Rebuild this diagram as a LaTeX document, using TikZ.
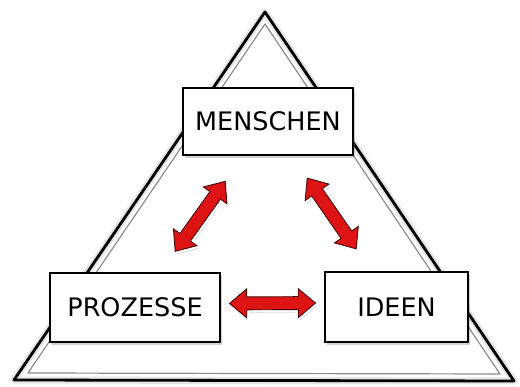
\documentclass[tikz,border=0pt]{standalone}
\usepackage{fontspec}
\setmainfont{DejaVu Sans}
\usetikzlibrary{shapes.arrows, shadows}
\definecolor{pfeilrot}{RGB}{222,20,20}
\definecolor{pfeilrand}{RGB}{70,10,10}
\definecolor{schatten}{RGB}{120,120,120}

\begin{document}
\begin{tikzpicture}[x=1pt, y=-1pt,
        kasten/.style={rectangle, draw=black, line width=1.6pt, fill=white, align=center, inner sep=0pt,
            font=\fontsize{25.5}{30}\selectfont,
            drop shadow={shadow xshift=2pt, shadow yshift=-3pt, opacity=0.35, fill=schatten}},
        pfeil/.style={double arrow, draw=pfeilrand, line width=0.9pt, fill=pfeilrot,
            inner xsep=0pt, inner ysep=6pt, text height=0pt, text depth=0pt,
            minimum height=86pt, double arrow head extend=8pt, double arrow tip angle=80, sloped,
            drop shadow={shadow xshift=1.5pt, shadow yshift=-3pt, opacity=0.35, fill=schatten},
            preaction={draw=white, line width=5pt}}
    ]
    \useasboundingbox (0,0) rectangle (520,387);

    % Dreieck
    \draw[line width=7pt, black!10, line join=round] (265,12) -- (14,380) -- (514,381) -- cycle;
    \draw[line width=2.8pt, black, line join=round] (265,12) -- (14,380) -- (514,381) -- cycle;
    \draw[line width=1.2pt, black!45, line join=round] (265,24) -- (28,373) -- (500,374) -- cycle;

    % Kaesten
    \node[kasten, minimum width=170pt, minimum height=67pt] (menschen) at (268,121.5) {MENSCHEN};
    \node[kasten, minimum width=170pt, minimum height=69pt] (prozesse) at (135,307.5) {PROZESSE};
    \node[kasten, minimum width=143pt, minimum height=70pt] (ideen) at (396.5,307) {IDEEN};

    % Pfeile
    \path (menschen) -- node[pfeil, pos=0.52] {} (prozesse);
    \path (menschen) -- node[pfeil, pos=0.5] {} (ideen);
    \path ([yshift=4pt]prozesse.east) -- node[pfeil] {} ([yshift=4pt]ideen.west);

\end{tikzpicture}
\end{document}
